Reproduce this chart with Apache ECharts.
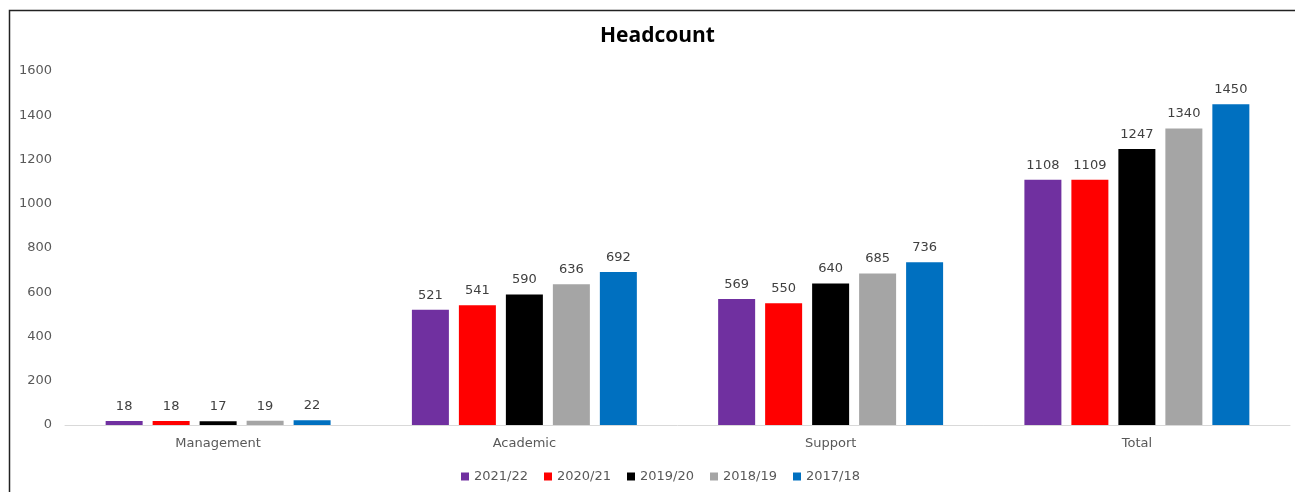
<!DOCTYPE html>
<html>
<head>
<meta charset="utf-8">
<script src="https://cdn.jsdelivr.net/npm/echarts@6/dist/echarts.min.js"></script>
<style>
html,body{margin:0;padding:0;background:#fff;}
#chart{width:1295px;height:492px;}
</style>
</head>
<body>
<div id="chart"></div>
<script>
const categories = ['Management', 'Academic', 'Support', 'Total'];
const seriesNames = ['2021/22', '2020/21', '2019/20', '2018/19', '2017/18'];
const v2021_22 = [18, 521, 569, 1108];
const v2020_21 = [18, 541, 550, 1109];
const v2019_20 = [17, 590, 640, 1247];
const v2018_19 = [19, 636, 685, 1340];
const v2017_18 = [22, 692, 736, 1450];
const yTicks = [0, 200, 400, 600, 800, 1000, 1200, 1400, 1600];

const values = [v2021_22, v2020_21, v2019_20, v2018_19, v2017_18];
const colors = ['#7030A0', '#FF0000', '#000000', '#A5A5A5', '#0070C0'];
const FONT = 'DejaVu Sans';

const chart = echarts.init(document.getElementById('chart'));
chart.setOption({
  animation: false,
  backgroundColor: '#fff',
  title: {
    text: 'Headcount',
    left: 600,
    top: 26,
    padding: 0,
    textStyle: { fontFamily: 'Open Sans', fontWeight: 'bold', fontSize: 21, color: '#000' }
  },
  graphic: [{
    type: 'rect',
    shape: { x: 9.5, y: 10.5, width: 1400, height: 600 },
    style: { fill: 'none', stroke: '#222', lineWidth: 1.5 },
    silent: true
  }],
  legend: {
    left: 461,
    top: 470,
    padding: 0,
    itemWidth: 8,
    itemHeight: 8,
    itemGap: 16,
    icon: 'rect',
    textStyle: { fontFamily: FONT, fontSize: 13, color: '#595959' },
    data: seriesNames
  },
  grid: { left: 65, right: 5, top: 71, bottom: 67, containLabel: false },
  xAxis: {
    type: 'category',
    data: categories,
    axisLine: { lineStyle: { color: '#D9D9D9', width: 1 } },
    axisTick: { show: false },
    axisLabel: { fontFamily: FONT, fontSize: 13, color: '#595959', margin: 12 }
  },
  yAxis: {
    type: 'value',
    min: yTicks[0],
    max: yTicks[yTicks.length - 1],
    interval: 200,
    axisLine: { show: false },
    axisTick: { show: false },
    splitLine: { show: false },
    axisLabel: { fontFamily: FONT, fontSize: 13, color: '#595959', margin: 13, formatter: v => String(v) }
  },
  series: seriesNames.map((name, i) => ({
    name: name,
    type: 'bar',
    data: values[i],
    barWidth: 37,
    barGap: '27%',
    itemStyle: { color: colors[i] },
    label: {
      show: true,
      position: 'top',
      distance: 8,
      fontFamily: FONT,
      fontSize: 13,
      color: '#404040'
    }
  }))
});
</script>
</body>
</html>
